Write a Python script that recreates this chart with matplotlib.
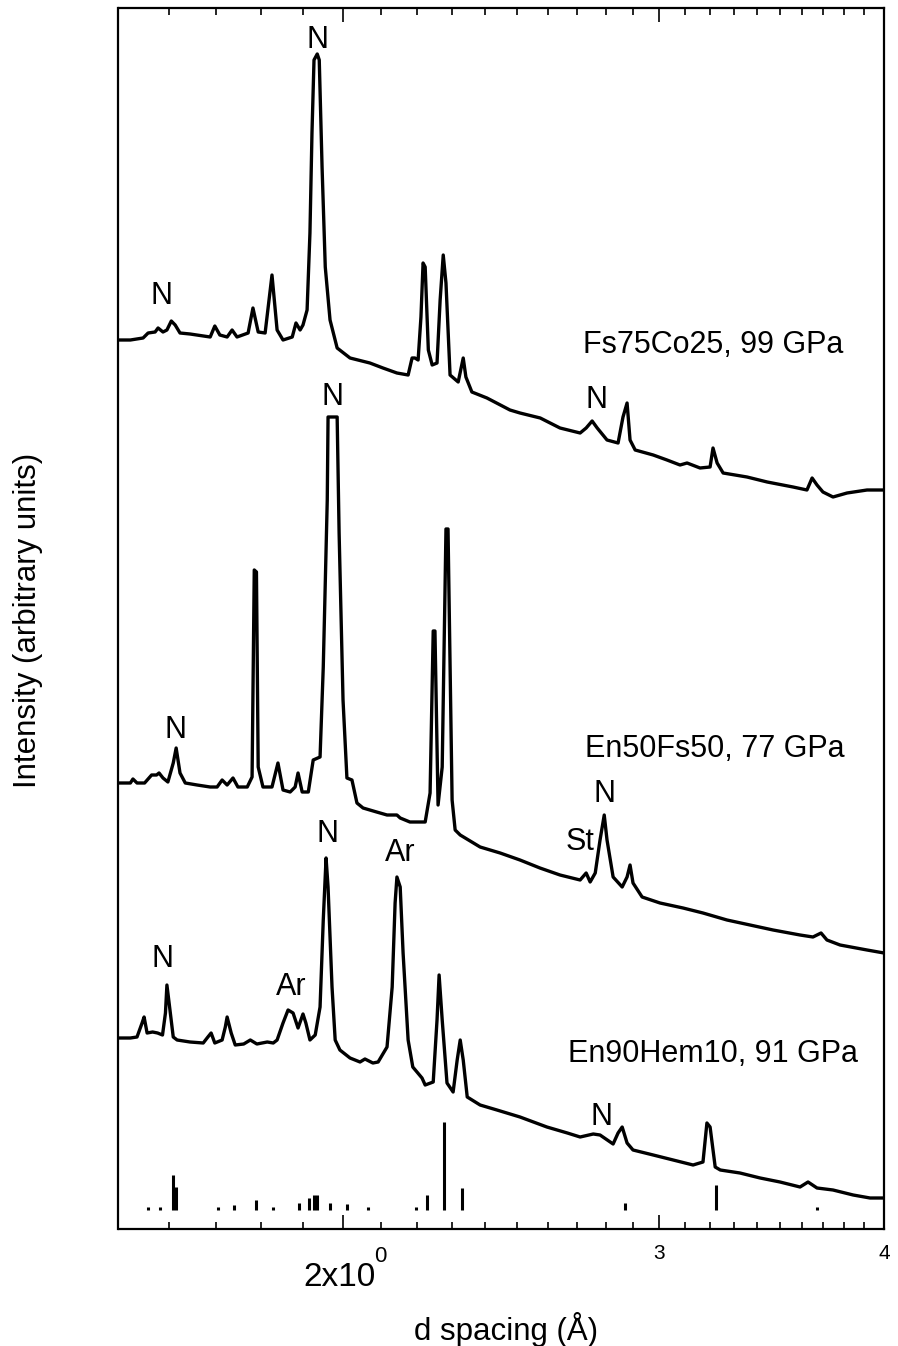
import matplotlib
matplotlib.use("Agg")
import matplotlib.pyplot as plt
from matplotlib.ticker import FixedLocator, NullFormatter

plt.rcParams['font.family'] = ['Liberation Sans', 'DejaVu Sans']

# =========================
# data (d spacing in Å, intensity in arbitrary units, curves already offset)
# =========================
d_top = [1.500, 1.523, 1.548, 1.558, 1.572, 1.578, 1.588, 1.596, 1.605, 1.613,
         1.623, 1.644, 1.687, 1.697, 1.708, 1.724, 1.735, 1.746, 1.771, 1.782,
         1.794, 1.810, 1.826, 1.838, 1.852, 1.874, 1.883, 1.893, 1.900, 1.910,
         1.917, 1.922, 1.927, 1.935, 1.940, 1.947, 1.955, 1.967, 1.985, 2.018,
         2.070, 2.105, 2.143, 2.174, 2.185, 2.193, 2.202, 2.210, 2.216, 2.222,
         2.231, 2.242, 2.256, 2.265, 2.274, 2.282, 2.294, 2.318, 2.333, 2.341,
         2.359, 2.405, 2.477, 2.509, 2.575, 2.641, 2.710, 2.731, 2.752, 2.770,
         2.805, 2.845, 2.863, 2.878, 2.889, 2.908, 2.976, 3.029, 3.080, 3.108,
         3.160, 3.201, 3.213, 3.230, 3.255, 3.356, 3.444, 3.560, 3.624, 3.648,
         3.671, 3.699, 3.747, 3.815, 3.914, 4.000]
i_top = [87.5, 87.5, 87.7, 88.2, 88.3, 88.7, 88.3, 88.5, 89.4, 89.0,
         88.2, 88.1, 87.8, 88.9, 88.0, 87.8, 88.5, 87.8, 88.2, 90.7,
         88.3, 88.2, 94.0, 88.5, 87.5, 87.8, 89.2, 88.5, 89.0, 90.5,
         98.2, 108.2, 115.5, 116.1, 115.5, 104.8, 94.8, 89.5, 86.7, 85.7,
         85.2, 84.7, 84.2, 84.0, 85.7, 85.7, 85.5, 89.8, 95.2, 94.8,
         86.5, 85.0, 85.2, 91.5, 96.0, 93.2, 84.0, 83.3, 85.7, 83.8,
         82.3, 81.7, 80.5, 80.2, 79.7, 78.7, 78.2, 78.7, 79.4, 78.7,
         77.5, 77.2, 79.8, 81.2, 77.5, 76.5, 76.0, 75.5, 75.0, 75.2,
         74.7, 74.8, 76.7, 75.2, 74.2, 73.8, 73.3, 72.8, 72.5, 73.7,
         73.0, 72.3, 71.8, 72.2, 72.5, 72.5]

d_mid = [1.500, 1.523, 1.528, 1.536, 1.551, 1.565, 1.575, 1.580, 1.588, 1.598,
         1.609, 1.615, 1.623, 1.634, 1.659, 1.687, 1.702, 1.713, 1.724, 1.737,
         1.748, 1.769, 1.780, 1.785, 1.790, 1.794, 1.805, 1.826, 1.840, 1.852,
         1.869, 1.881, 1.888, 1.898, 1.913, 1.925, 1.942, 1.950, 1.960, 1.962,
         1.985, 1.990, 2.000, 2.010, 2.023, 2.036, 2.052, 2.088, 2.116, 2.143,
         2.152, 2.179, 2.222, 2.236, 2.245, 2.250, 2.259, 2.271, 2.282, 2.288,
         2.300, 2.309, 2.324, 2.384, 2.446, 2.509, 2.574, 2.641, 2.710, 2.731,
         2.745, 2.763, 2.780, 2.795, 2.805, 2.827, 2.860, 2.878, 2.889, 2.900,
         2.934, 3.002, 3.092, 3.172, 3.271, 3.369, 3.470, 3.592, 3.652, 3.690,
         3.718, 3.781, 3.914, 4.000]
i_mid = [43.2, 43.2, 43.6, 43.2, 43.2, 44.0, 44.0, 44.2, 43.7, 43.3,
         45.2, 46.7, 44.2, 43.2, 43.0, 42.8, 42.8, 43.5, 43.0, 43.7,
         42.8, 42.8, 43.8, 64.5, 64.3, 44.8, 42.8, 42.8, 45.2, 42.5,
         42.3, 42.8, 44.2, 42.3, 42.3, 45.5, 45.8, 54.8, 71.5, 79.8,
         79.8, 68.2, 51.5, 43.7, 43.5, 41.2, 40.7, 40.3, 40.0, 40.0,
         39.7, 39.3, 39.3, 42.2, 58.4, 58.4, 41.0, 44.8, 68.6, 68.6,
         41.5, 38.5, 38.0, 36.8, 36.2, 35.5, 34.7, 34.0, 33.5, 34.2,
         33.3, 34.2, 37.5, 40.0, 37.5, 33.8, 32.8, 33.8, 35.0, 33.2,
         31.8, 31.2, 30.7, 30.2, 29.5, 29.0, 28.5, 28.0, 27.8, 28.2,
         27.5, 27.0, 26.5, 26.2]

d_bot = [1.500, 1.523, 1.536, 1.546, 1.550, 1.556, 1.567, 1.577, 1.587, 1.593,
         1.596, 1.603, 1.609, 1.617, 1.644, 1.672, 1.682, 1.689, 1.697, 1.713,
         1.720, 1.724, 1.733, 1.742, 1.761, 1.776, 1.791, 1.815, 1.829, 1.838,
         1.852, 1.864, 1.876, 1.888, 1.900, 1.907, 1.917, 1.930, 1.942, 1.950,
         1.957, 1.962, 1.972, 1.980, 1.992, 2.018, 2.044, 2.057, 2.078, 2.092,
         2.116, 2.130, 2.138, 2.143, 2.152, 2.160, 2.174, 2.187, 2.213, 2.222,
         2.245, 2.256, 2.262, 2.271, 2.285, 2.303, 2.315, 2.324, 2.333, 2.345,
         2.384, 2.436, 2.509, 2.597, 2.666, 2.710, 2.756, 2.780, 2.827, 2.845,
         2.860, 2.878, 2.900, 2.976, 3.053, 3.132, 3.172, 3.188, 3.201, 3.222,
         3.243, 3.326, 3.413, 3.501, 3.592, 3.629, 3.671, 3.747, 3.845, 3.929,
         4.000]
i_bot = [17.7, 17.7, 17.8, 19.2, 19.8, 18.2, 18.3, 18.2, 18.0, 20.2,
         23.0, 20.2, 17.8, 17.5, 17.3, 17.2, 17.8, 18.2, 17.2, 17.5,
         18.8, 19.8, 18.2, 17.0, 17.1, 17.5, 17.1, 17.3, 17.2, 17.5,
         19.2, 20.5, 20.2, 18.7, 20.1, 19.2, 17.5, 18.0, 20.8, 29.5,
         35.7, 32.8, 22.8, 17.5, 16.5, 15.7, 15.3, 15.6, 15.2, 15.3,
         16.8, 22.8, 31.2, 33.8, 32.8, 26.2, 17.5, 14.8, 13.7, 13.0,
         13.3, 19.5, 24.0, 19.5, 13.2, 12.3, 15.5, 17.5, 15.5, 11.8,
         11.0, 10.5, 9.8, 8.8, 8.2, 7.8, 8.1, 8.0, 7.1, 8.2,
         8.8, 7.2, 6.5, 6.0, 5.5, 5.0, 5.3, 9.2, 8.8, 4.8,
         4.5, 4.2, 3.7, 3.3, 2.8, 3.3, 2.7, 2.5, 2.0, 1.7,
         1.7]

# reference stick pattern
stick_d = [1.557, 1.582, 1.609, 1.615, 1.705, 1.740, 1.790, 1.829, 1.890, 1.915, 1.927,
           1.935, 1.967, 2.010, 2.065, 2.196, 2.227, 2.277, 2.330, 2.870, 3.226, 3.671]
stick_i = [0.8, 0.8, 4.0, 2.8, 0.8, 1.0, 1.5, 0.8, 1.2, 1.7, 2.0,
           2.0, 1.2, 1.1, 0.8, 0.8, 2.0, 9.3, 2.7, 1.2, 3.0, 0.8]
stick_base = 0.5

sample_names = ["Fs75Co25, 99 GPa", "En50Fs50, 77 GPa", "En90Hem10, 91 GPa"]
sample_pos = [(2.720, 86.2), (2.726, 45.8), (2.669, 15.3)]

peak_labels = ["N", "N", "N", "N", "N", "N", "St", "N", "Ar", "N", "Ar", "N"]
peak_pos = [(1.936, 116.7), (1.584, 91.1), (2.768, 80.7),
            (1.613, 47.7), (1.974, 81.0), (2.795, 41.3), (2.710, 36.5),
            (1.586, 24.8), (1.871, 22.0), (1.960, 37.3), (2.152, 35.4), (2.787, 9.0)]

major_ticks = [2, 3, 4]
tick_labels = ['', '3', '4']
minor_ticks = [1.6, 1.7, 1.8, 1.9, 2.1, 2.2, 2.3, 2.4, 2.5, 2.6, 2.7, 2.8, 2.9,
               3.1, 3.2, 3.3, 3.4, 3.5, 3.6, 3.7, 3.8, 3.9]

# =========================
# plot
# =========================
fig = plt.figure(figsize=(8.98, 13.46), dpi=100)
ax = fig.add_axes([118.5 / 898, 1 - 1229 / 1346, 765.5 / 898, 1221 / 1346])

for d, i in [(d_top, i_top), (d_mid, i_mid), (d_bot, i_bot)]:
    ax.plot(d, i, color='black', lw=2.4, solid_joinstyle='round')

ax.vlines(stick_d, stick_base, stick_i, color='black', lw=2.2)

for name, (x, y) in zip(sample_names, sample_pos):
    ax.text(x, y, name, fontsize=22, ha='left', va='baseline')
for lab, (x, y) in zip(peak_labels, peak_pos):
    ax.text(x, y, lab, fontsize=22, ha='center', va='baseline')

ax.set_xscale('log')
ax.set_xlim(1.5, 4.0)
ax.set_ylim(-1.4, 120.7)
ax.set_yticks([])

ax.xaxis.set_major_locator(FixedLocator(major_ticks))
ax.xaxis.set_minor_locator(FixedLocator(minor_ticks))
ax.xaxis.set_minor_formatter(NullFormatter())
ax.set_xticklabels(tick_labels, fontsize=15)

# "2x10^0" label drawn by hand: big mantissa, small raised exponent
tr = ax.get_xaxis_transform()
ax.text(1.990, -0.0467, "2x10", fontsize=24, ha='center', va='baseline',
        transform=tr, clip_on=False)
ax.text(2.099, -0.0272, "0", fontsize=16, ha='center', va='baseline',
        transform=tr, clip_on=False)

ax.tick_params(axis='x', which='both', direction='in', top=True, pad=11)
ax.tick_params(axis='x', which='major', length=10, width=1.2)
ax.tick_params(axis='x', which='minor', length=5, width=1.2)
for sp in ax.spines.values():
    sp.set_linewidth(1.6)

fig.text(0.0312, 0.539, "Intensity (arbitrary units)", rotation=90,
         fontsize=22.5, ha='center', va='center')
fig.text(0.563, 0.012, "d spacing (Å)", fontsize=22.5, ha='center', va='center')

fig.savefig("out.png", dpi=100)
